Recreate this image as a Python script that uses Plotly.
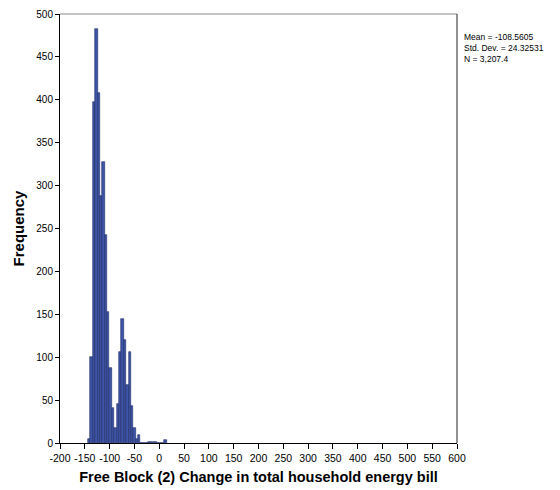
import plotly.graph_objects as go

# Histogram data
bin_start = -143.5
bin_width = 4.8
counts = [5, 100, 398, 482, 408, 288, 328, 242, 153, 88, 41, 17, 45, 106, 144,
          120, 68, 106, 43, 18, 5, 9, 0, 0, 0, 1, 1, 1, 1, 0, 0, 0, 4]
x_ticks = list(range(-200, 601, 50))
y_ticks = list(range(0, 501, 50))
stats_text = ["Mean = -108.5605", "Std. Dev. = 24.32531", "N = 3,207.4"]

centers = [bin_start + bin_width * (i + 0.5) for i in range(len(counts))]

fig = go.Figure()
fig.add_trace(go.Bar(
    x=centers, y=counts, width=bin_width,
    marker=dict(color="#3D55A6", line=dict(color="#1E2B66", width=0.6)),
    showlegend=False,
))

font_family = "Liberation Sans, Arial, sans-serif"
# page body has an 8px margin, so the figure is 8px smaller and margins shifted
fig.update_layout(
    width=552, height=482,
    margin=dict(l=52, r=103, t=6, b=47, autoexpand=False),
    paper_bgcolor="white", plot_bgcolor="white",
    bargap=0,
    font=dict(family=font_family, color="#000000", size=10),
    xaxis=dict(
        range=[-200, 600], tickvals=x_ticks, ticktext=[str(v) for v in x_ticks],
        showgrid=False, zeroline=False, automargin=False,
        showline=True, linecolor="#000000", linewidth=1,
        ticks="outside", ticklen=5, tickcolor="#000000",
        tickfont=dict(size=10.5),
        title=dict(text="<b>Free Block (2) Change in total household energy bill</b>",
                   font=dict(size=14.5), standoff=9),
    ),
    yaxis=dict(
        range=[0, 500], tickvals=y_ticks, ticktext=[str(v) for v in y_ticks],
        showgrid=False, zeroline=False, automargin=False,
        showline=True, linecolor="#000000", linewidth=1,
        ticks="outside", ticklen=4, tickcolor="#000000",
        tickfont=dict(size=10),
        title=dict(text="<b>Frequency</b>", font=dict(size=15), standoff=8),
    ),
    shapes=[
        dict(type="line", xref="paper", yref="paper", x0=0, x1=1, y0=1, y1=1,
             line=dict(color="#8a8a8a", width=1)),
        dict(type="line", xref="paper", yref="paper", x0=1, x1=1, y0=0, y1=1,
             line=dict(color="#222222", width=1)),
    ],
    annotations=[
        dict(text="<br>".join(stats_text), xref="paper", yref="paper",
             x=1.012, y=0.962, xanchor="left", yanchor="top", showarrow=False,
             align="left", font=dict(size=8.5, family=font_family)),
    ],
)

fig.write_html("out.html")
